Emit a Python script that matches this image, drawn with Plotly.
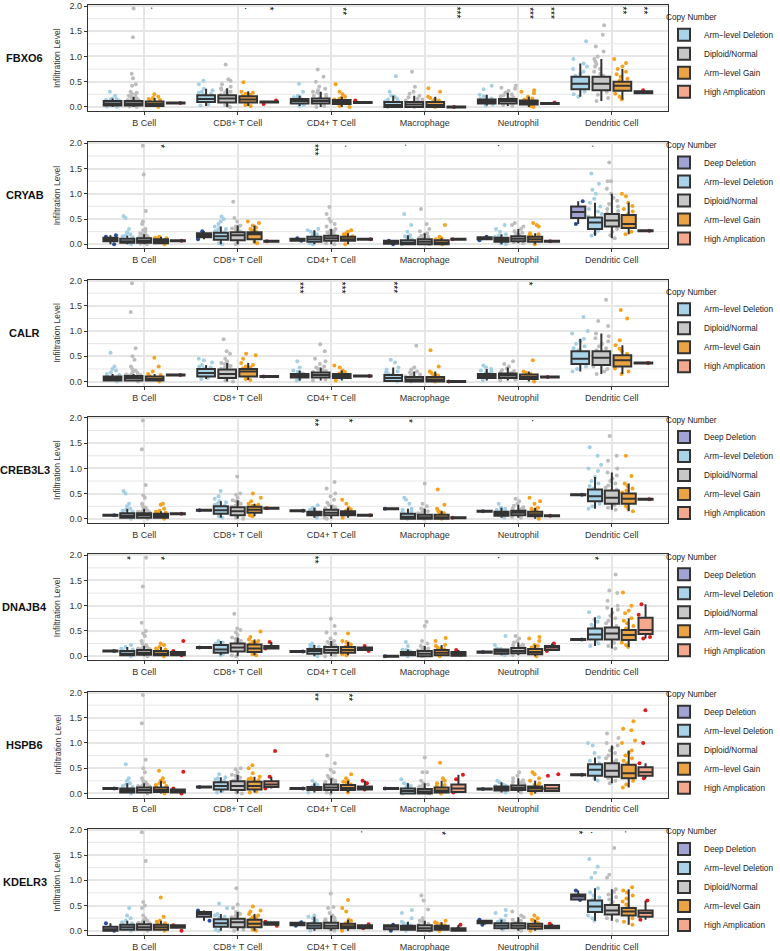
import plotly.graph_objects as go

CELLS = ["B Cell", "CD8+ T Cell", "CD4+ T Cell", "Macrophage", "Neutrophil", "Dendritic Cell"]
GENES = ["FBXO6", "CRYAB", "CALR", "CREB3L3", "DNAJB4", "HSPB6", "KDELR3"]
CAT_NAMES = {"DD": "Deep Deletion", "AD": "Arm\u2212level Deletion", "DN": "Diploid/Normal",
             "AG": "Arm\u2212level Gain", "HA": "High Amplication"}
POINT_COLORS = {"DD": "#2A4B9B", "AD": "#A5CFE3", "DN": "#BDBDBD", "AG": "#F6A21E", "HA": "#E31A1C"}
BOX_FILLS = {"DD": "#A0A3D4", "AD": "#A8D3E8", "DN": "#C7C7C7", "AG": "#EAA443", "HA": "#F4A88E"}

# box stats per cell: [lowerfence, q1, median, q3, upperfence]
FBXO6_BOX = {
    "AD": [[0.0, 0.03, 0.07, 0.12, 0.17], [0.02, 0.10, 0.16, 0.23, 0.36], [0.02, 0.07, 0.12, 0.16, 0.22],
           [0.0, 0.0, 0.04, 0.10, 0.22], [0.03, 0.07, 0.11, 0.15, 0.24], [0.2, 0.35, 0.46, 0.6, 0.86]],
    "DN": [[0.0, 0.03, 0.07, 0.12, 0.2], [0.0, 0.09, 0.17, 0.23, 0.37], [0.0, 0.07, 0.12, 0.17, 0.3],
           [0.0, 0.0, 0.05, 0.10, 0.22], [0.02, 0.07, 0.12, 0.16, 0.28], [0.12, 0.33, 0.46, 0.6, 0.95]],
    "AG": [[0.0, 0.02, 0.06, 0.11, 0.18], [0.02, 0.09, 0.15, 0.21, 0.31], [0.0, 0.06, 0.10, 0.14, 0.2],
           [0.0, 0.0, 0.04, 0.10, 0.2], [0.0, 0.05, 0.09, 0.13, 0.2], [0.15, 0.32, 0.42, 0.5, 0.75]],
    "HA": [[0.07, 0.07, 0.08, 0.09, 0.09], [0.08, 0.09, 0.10, 0.11, 0.11], [0.07, 0.08, 0.09, 0.10, 0.10],
           [-0.01, -0.01, 0.0, 0.01, 0.01], [0.05, 0.06, 0.07, 0.08, 0.08], [0.26, 0.27, 0.29, 0.31, 0.32]],
}
FBXO6_PTS = {
    "AD": [[0.0, 0.01, 0.13, 0.14, 0.15, 0.16, 0.17, 0.22, 0.3],
           [0.03, 0.05, 0.24, 0.26, 0.28, 0.3, 0.33, 0.36, 0.45, 0.52],
           [0.02, 0.04, 0.17, 0.18, 0.19, 0.2, 0.22, 0.3, 0.46],
           [0.0, 0.11, 0.13, 0.15, 0.17, 0.2, 0.22, 0.3, 0.61],
           [0.03, 0.05, 0.16, 0.17, 0.19, 0.21, 0.24, 0.35, 0.42],
           [0.2, 0.25, 0.3, 0.62, 0.66, 0.7, 0.75, 0.8, 0.86, 0.95, 1.3]],
    "DN": [[0.0, 0.01, 0.13, 0.14, 0.15, 0.16, 0.17, 0.18, 0.2, 0.22, 0.24, 0.26, 0.28, 0.3, 0.42, 0.45, 0.57, 0.66, 1.38, 1.95],
           [0.0, 0.02, 0.04, 0.24, 0.26, 0.28, 0.3, 0.32, 0.34, 0.37, 0.4, 0.45, 0.52, 0.55, 0.84],
           [0.0, 0.02, 0.18, 0.2, 0.22, 0.24, 0.26, 0.28, 0.3, 0.33, 0.36, 0.4, 0.5, 0.6, 0.74],
           [0.0, 0.11, 0.13, 0.15, 0.17, 0.19, 0.22, 0.26, 0.3, 0.4, 0.7],
           [0.02, 0.04, 0.17, 0.19, 0.21, 0.23, 0.25, 0.28, 0.32, 0.36, 0.38, 0.42],
           [0.12, 0.18, 0.24, 0.3, 0.62, 0.66, 0.7, 0.75, 0.8, 0.85, 0.9, 0.95, 1.0, 1.1, 1.2, 1.43, 1.62]],
    "AG": [[0.0, 0.12, 0.14, 0.16, 0.18, 0.2, 0.25],
           [0.02, 0.04, 0.22, 0.24, 0.26, 0.28, 0.3, 0.49],
           [0.0, 0.02, 0.15, 0.16, 0.18, 0.2, 0.25, 0.3, 0.45],
           [0.0, 0.11, 0.13, 0.15, 0.18, 0.2, 0.3, 0.37],
           [0.0, 0.02, 0.14, 0.15, 0.17, 0.2, 0.27, 0.3, 0.33],
           [0.15, 0.2, 0.26, 0.52, 0.56, 0.6, 0.65, 0.7, 0.75, 0.8, 0.87, 0.95]],
    "HA": [[0.08], [0.06, 0.13], [0.13], [0.0], [0.09], [0.33]],
}
FBXO6_SIG = [("B Cell", "AG", "."), ("CD8+ T Cell", "AG", "."), ("CD8+ T Cell", "HA", "*"),
             ("CD4+ T Cell", "AG", "**"), ("Macrophage", "HA", "***"), ("Neutrophil", "AG", "***"),
             ("Neutrophil", "HA", "***"), ("Dendritic Cell", "AG", "**"), ("Dendritic Cell", "HA", "**")]

CRYAB_BOX = {
    "DD": [[0.0, 0.06, 0.10, 0.13, 0.18], [0.10, 0.14, 0.18, 0.22, 0.26], [0.07, 0.07, 0.09, 0.11, 0.12],
           [0.0, 0.01, 0.04, 0.07, 0.08], [0.08, 0.10, 0.12, 0.14, 0.15], [0.40, 0.52, 0.64, 0.75, 0.85]],
    "AD": [[0.0, 0.03, 0.06, 0.11, 0.17], [0.0, 0.09, 0.16, 0.23, 0.35], [0.0, 0.05, 0.10, 0.15, 0.28],
           [0.0, 0.0, 0.03, 0.08, 0.18], [0.0, 0.05, 0.09, 0.13, 0.2], [0.17, 0.30, 0.43, 0.53, 0.82]],
    "DN": [[0.0, 0.03, 0.07, 0.12, 0.2], [0.0, 0.08, 0.18, 0.24, 0.37], [0.0, 0.07, 0.12, 0.17, 0.3],
           [0.0, 0.0, 0.05, 0.10, 0.22], [0.02, 0.06, 0.11, 0.16, 0.3], [0.12, 0.35, 0.47, 0.6, 1.0]],
    "AG": [[0.0, 0.02, 0.06, 0.10, 0.15], [0.02, 0.10, 0.20, 0.24, 0.37], [0.0, 0.07, 0.10, 0.15, 0.22],
           [0.0, 0.0, 0.03, 0.08, 0.12], [0.0, 0.05, 0.10, 0.15, 0.22], [0.2, 0.32, 0.40, 0.58, 0.82]],
    "HA": [[0.06, 0.06, 0.07, 0.08, 0.08], [0.05, 0.05, 0.06, 0.07, 0.07], [0.09, 0.09, 0.10, 0.11, 0.11],
           [0.09, 0.09, 0.10, 0.11, 0.11], [0.05, 0.05, 0.06, 0.07, 0.07], [0.26, 0.26, 0.27, 0.28, 0.28]],
}
CRYAB_PTS = {
    "DD": [[0.0, 0.15, 0.18], [0.10, 0.26], [0.07, 0.12], [0.0, 0.07], [0.08, 0.15], [0.40, 0.85]],
    "AD": [[0.0, 0.12, 0.14, 0.16, 0.18, 0.2, 0.24, 0.3, 0.52, 0.56],
           [0.0, 0.02, 0.24, 0.26, 0.28, 0.3, 0.32, 0.35, 0.4, 0.45, 0.5, 0.55],
           [0.0, 0.02, 0.16, 0.18, 0.2, 0.22, 0.25, 0.28, 0.3],
           [0.0, 0.1, 0.12, 0.14, 0.16, 0.18, 0.25, 0.38, 0.6],
           [0.0, 0.02, 0.14, 0.15, 0.17, 0.2, 0.25, 0.3, 0.38],
           [0.17, 0.22, 0.27, 0.55, 0.6, 0.65, 0.7, 0.75, 0.82, 0.9, 1.0, 1.08, 1.2, 1.4]],
    "DN": [[0.0, 0.01, 0.13, 0.14, 0.15, 0.16, 0.17, 0.18, 0.2, 0.22, 0.25, 0.28, 0.3, 0.4, 0.45, 0.66, 1.38, 1.95],
           [0.0, 0.02, 0.25, 0.27, 0.29, 0.31, 0.33, 0.35, 0.37, 0.45, 0.52, 0.84],
           [0.0, 0.02, 0.18, 0.2, 0.22, 0.24, 0.26, 0.28, 0.3, 0.35, 0.4, 0.45, 0.5, 0.6, 0.74],
           [0.0, 0.11, 0.13, 0.15, 0.17, 0.2, 0.22, 0.26, 0.3, 0.4, 0.7],
           [0.02, 0.04, 0.17, 0.19, 0.21, 0.23, 0.26, 0.3, 0.35, 0.38, 0.42],
           [0.12, 0.18, 0.25, 0.3, 0.62, 0.66, 0.7, 0.75, 0.8, 0.86, 0.92, 1.0, 1.1, 1.25, 1.25, 1.62]],
    "AG": [[0.0, 0.11, 0.12, 0.13, 0.15],
           [0.02, 0.05, 0.25, 0.27, 0.3, 0.33, 0.37, 0.42, 0.45],
           [0.0, 0.16, 0.18, 0.2, 0.22, 0.25, 0.28],
           [0.0, 0.09, 0.1, 0.12, 0.15, 0.38],
           [0.0, 0.16, 0.18, 0.2, 0.22, 0.35, 0.38, 0.42],
           [0.2, 0.25, 0.6, 0.65, 0.7, 0.76, 0.82, 0.95, 1.0]],
    "HA": [[0.07], [0.06], [0.1], [0.1], [0.06], [0.27]],
}
CRYAB_SIG = [("B Cell", "AG", "*"), ("CD4+ T Cell", "AD", "***"), ("CD4+ T Cell", "AG", "."),
             ("Macrophage", "AD", "."), ("Neutrophil", "AD", "."), ("Dendritic Cell", "AD", ".")]

CALR_BOX = {
    "AD": [[0.0, 0.02, 0.06, 0.10, 0.15], [0.05, 0.10, 0.17, 0.25, 0.33], [0.02, 0.08, 0.12, 0.15, 0.22],
           [0.0, 0.01, 0.07, 0.13, 0.28], [0.02, 0.07, 0.11, 0.15, 0.25], [0.2, 0.35, 0.45, 0.6, 0.85]],
    "DN": [[0.0, 0.02, 0.07, 0.11, 0.15], [0.0, 0.07, 0.15, 0.24, 0.37], [0.02, 0.08, 0.13, 0.18, 0.28],
           [0.0, 0.0, 0.04, 0.09, 0.2], [0.02, 0.07, 0.12, 0.16, 0.28], [0.15, 0.33, 0.47, 0.6, 0.95]],
    "AG": [[0.0, 0.02, 0.05, 0.10, 0.15], [0.03, 0.10, 0.20, 0.25, 0.37], [0.02, 0.07, 0.11, 0.15, 0.22],
           [0.0, 0.0, 0.04, 0.09, 0.2], [0.0, 0.05, 0.09, 0.14, 0.2], [0.15, 0.30, 0.42, 0.52, 0.72]],
    "HA": [[0.12, 0.12, 0.13, 0.14, 0.14], [0.09, 0.09, 0.10, 0.11, 0.11], [0.10, 0.10, 0.11, 0.12, 0.12],
           [-0.01, -0.01, 0.0, 0.01, 0.01], [0.08, 0.08, 0.09, 0.10, 0.10], [0.36, 0.36, 0.37, 0.38, 0.38]],
}
CALR_PTS = {
    "AD": [[0.0, 0.11, 0.13, 0.15, 0.18, 0.22, 0.25, 0.3, 0.57],
           [0.05, 0.07, 0.26, 0.28, 0.3, 0.33, 0.38, 0.42, 0.45],
           [0.02, 0.04, 0.16, 0.17, 0.19, 0.22, 0.28, 0.4],
           [0.0, 0.14, 0.16, 0.18, 0.2, 0.24, 0.28, 0.38, 0.43],
           [0.02, 0.16, 0.18, 0.2, 0.22, 0.25, 0.28, 0.32],
           [0.2, 0.25, 0.3, 0.62, 0.66, 0.7, 0.75, 0.8, 0.85, 0.95, 1.0, 1.28]],
    "DN": [[0.0, 0.12, 0.13, 0.14, 0.15, 0.17, 0.2, 0.22, 0.25, 0.3, 0.43, 0.5, 0.66, 1.38, 1.95],
           [0.0, 0.02, 0.25, 0.27, 0.29, 0.31, 0.33, 0.35, 0.37, 0.4, 0.45, 0.55, 0.6, 0.84],
           [0.02, 0.04, 0.19, 0.21, 0.23, 0.25, 0.28, 0.3, 0.35, 0.4, 0.45, 0.6, 0.74],
           [0.0, 0.1, 0.12, 0.14, 0.16, 0.18, 0.2, 0.24, 0.28, 0.71],
           [0.02, 0.04, 0.17, 0.19, 0.21, 0.23, 0.26, 0.3, 0.35, 0.4],
           [0.15, 0.2, 0.25, 0.3, 0.62, 0.66, 0.7, 0.75, 0.8, 0.86, 0.9, 0.95, 1.1, 1.2, 1.62]],
    "AG": [[0.0, 0.11, 0.13, 0.15, 0.2, 0.3, 0.47],
           [0.03, 0.05, 0.26, 0.28, 0.3, 0.33, 0.37, 0.45, 0.52, 0.55],
           [0.02, 0.16, 0.17, 0.19, 0.22, 0.28, 0.32],
           [0.0, 0.1, 0.12, 0.14, 0.17, 0.2, 0.3, 0.62],
           [0.0, 0.15, 0.17, 0.2, 0.42],
           [0.15, 0.2, 0.26, 0.55, 0.6, 0.65, 0.72, 0.82, 1.25, 1.42]],
    "HA": [[0.13], [0.1], [0.11], [0.0], [0.09], [0.37]],
}
CALR_SIG = [("CD4+ T Cell", "AD", "***"), ("CD4+ T Cell", "AG", "***"), ("Macrophage", "AD", "***"),
            ("Neutrophil", "AG", "*")]

CREB3L3_BOX = {
    "DD": [[0.06, 0.06, 0.07, 0.08, 0.08], [0.16, 0.16, 0.17, 0.18, 0.18], [0.15, 0.15, 0.16, 0.17, 0.17],
           [0.19, 0.19, 0.20, 0.21, 0.21], [0.14, 0.14, 0.15, 0.16, 0.16], [0.47, 0.47, 0.48, 0.49, 0.49]],
    "AD": [[0.0, 0.02, 0.06, 0.11, 0.2], [0.02, 0.10, 0.17, 0.25, 0.35], [0.02, 0.07, 0.11, 0.14, 0.22],
           [0.0, 0.0, 0.04, 0.10, 0.2], [0.02, 0.06, 0.10, 0.14, 0.22], [0.2, 0.35, 0.45, 0.58, 0.83]],
    "DN": [[0.0, 0.02, 0.07, 0.11, 0.2], [0.0, 0.07, 0.15, 0.23, 0.37], [0.0, 0.07, 0.12, 0.18, 0.27],
           [0.0, 0.0, 0.03, 0.08, 0.2], [0.02, 0.07, 0.12, 0.16, 0.28], [0.18, 0.30, 0.42, 0.56, 0.92]],
    "AG": [[0.0, 0.02, 0.06, 0.10, 0.15], [0.05, 0.12, 0.18, 0.24, 0.3], [0.02, 0.07, 0.11, 0.15, 0.22],
           [0.0, 0.0, 0.03, 0.08, 0.15], [0.0, 0.05, 0.09, 0.14, 0.22], [0.15, 0.30, 0.40, 0.50, 0.70]],
    "HA": [[0.09, 0.09, 0.10, 0.11, 0.11], [0.20, 0.20, 0.21, 0.22, 0.22], [0.06, 0.06, 0.07, 0.08, 0.08],
           [0.01, 0.01, 0.02, 0.03, 0.03], [0.05, 0.05, 0.06, 0.07, 0.07], [0.38, 0.38, 0.39, 0.40, 0.40]],
}
CREB3L3_PTS = {
    "DD": [[0.07], [0.17], [0.16], [0.2], [0.15], [0.48]],
    "AD": [[0.0, 0.12, 0.14, 0.16, 0.18, 0.2, 0.25, 0.3, 0.5, 0.55],
           [0.02, 0.05, 0.26, 0.28, 0.3, 0.33, 0.35, 0.4, 0.45, 0.55],
           [0.02, 0.15, 0.16, 0.18, 0.2, 0.22, 0.27],
           [0.0, 0.11, 0.13, 0.15, 0.18, 0.2, 0.3, 0.38, 0.42],
           [0.02, 0.15, 0.16, 0.18, 0.2, 0.22, 0.3],
           [0.2, 0.25, 0.3, 0.6, 0.65, 0.7, 0.75, 0.83, 0.95, 1.0, 1.07, 1.25, 1.42]],
    "DN": [[0.0, 0.12, 0.13, 0.14, 0.15, 0.17, 0.2, 0.22, 0.25, 0.3, 0.42, 0.47, 0.67, 1.38, 1.95],
           [0.0, 0.02, 0.24, 0.26, 0.28, 0.3, 0.33, 0.35, 0.37, 0.42, 0.48, 0.5, 0.84],
           [0.0, 0.02, 0.19, 0.21, 0.23, 0.25, 0.27, 0.32, 0.38, 0.45, 0.5, 0.6, 0.73],
           [0.0, 0.09, 0.11, 0.13, 0.15, 0.18, 0.2, 0.25, 0.3, 0.7],
           [0.02, 0.04, 0.17, 0.19, 0.21, 0.23, 0.26, 0.3, 0.35, 0.4],
           [0.18, 0.22, 0.27, 0.58, 0.62, 0.66, 0.7, 0.75, 0.8, 0.86, 0.92, 1.0, 1.15, 1.25, 1.64]],
    "AG": [[0.0, 0.11, 0.12, 0.14, 0.16, 0.2, 0.28, 0.3],
           [0.05, 0.07, 0.25, 0.26, 0.28, 0.3, 0.35, 0.42, 0.5],
           [0.02, 0.16, 0.17, 0.19, 0.22, 0.3, 0.38],
           [0.0, 0.09, 0.11, 0.13, 0.15, 0.2, 0.28, 0.58],
           [0.0, 0.15, 0.17, 0.2, 0.22, 0.3, 0.35, 0.42],
           [0.15, 0.2, 0.25, 0.52, 0.56, 0.6, 0.65, 0.7, 0.85, 1.25]],
    "HA": [[0.1], [0.21], [0.07], [0.02], [0.06], [0.39]],
}
CREB3L3_SIG = [("CD4+ T Cell", "AD", "**"), ("CD4+ T Cell", "AG", "*"), ("Macrophage", "AD", "*"),
               ("Neutrophil", "AG", ".")]

DNAJB4_BOX = {
    "DD": [[0.09, 0.09, 0.10, 0.11, 0.11], [0.16, 0.16, 0.17, 0.18, 0.18], [0.08, 0.08, 0.09, 0.10, 0.10],
           [-0.01, -0.01, 0.0, 0.01, 0.01], [0.07, 0.07, 0.08, 0.09, 0.09], [0.32, 0.32, 0.33, 0.34, 0.34]],
    "AD": [[0.0, 0.02, 0.05, 0.10, 0.18], [0.02, 0.07, 0.13, 0.22, 0.3], [0.0, 0.05, 0.10, 0.14, 0.22],
           [0.0, 0.02, 0.05, 0.08, 0.13], [0.02, 0.05, 0.09, 0.13, 0.15], [0.2, 0.33, 0.43, 0.55, 0.77]],
    "DN": [[0.0, 0.03, 0.07, 0.12, 0.2], [0.0, 0.09, 0.17, 0.25, 0.37], [0.0, 0.07, 0.12, 0.18, 0.3],
           [0.0, 0.0, 0.05, 0.10, 0.2], [0.02, 0.06, 0.10, 0.16, 0.27], [0.15, 0.33, 0.45, 0.57, 0.96]],
    "AG": [[0.0, 0.02, 0.05, 0.10, 0.18], [0.02, 0.08, 0.15, 0.23, 0.33], [0.02, 0.07, 0.12, 0.18, 0.28],
           [0.0, 0.02, 0.07, 0.12, 0.22], [0.0, 0.04, 0.08, 0.14, 0.22], [0.18, 0.32, 0.42, 0.52, 0.75]],
    "HA": [[0.02, 0.02, 0.05, 0.08, 0.1], [0.14, 0.15, 0.17, 0.2, 0.28], [0.1, 0.12, 0.14, 0.17, 0.2],
           [0.01, 0.01, 0.05, 0.08, 0.12], [0.1, 0.12, 0.17, 0.2, 0.25], [0.35, 0.44, 0.52, 0.76, 1.03]],
}
DNAJB4_PTS = {
    "DD": [[0.1], [0.17], [0.09], [0.0], [0.08], [0.33]],
    "AD": [[0.0, 0.11, 0.13, 0.15, 0.18, 0.22],
           [0.02, 0.04, 0.23, 0.25, 0.27, 0.3],
           [0.0, 0.15, 0.16, 0.18, 0.2, 0.22, 0.25],
           [0.0, 0.09, 0.1, 0.12, 0.13, 0.2, 0.28],
           [0.02, 0.14, 0.15, 0.22, 0.4],
           [0.2, 0.25, 0.3, 0.57, 0.62, 0.68, 0.72, 0.77, 0.87]],
    "DN": [[0.0, 0.13, 0.14, 0.15, 0.16, 0.18, 0.2, 0.22, 0.25, 0.3, 0.4, 0.45, 0.5, 0.66, 1.38, 1.95],
           [0.0, 0.02, 0.26, 0.28, 0.3, 0.32, 0.34, 0.37, 0.42, 0.47, 0.52, 0.55, 0.84],
           [0.0, 0.02, 0.19, 0.21, 0.23, 0.25, 0.28, 0.3, 0.35, 0.45, 0.47, 0.6, 0.74],
           [0.0, 0.11, 0.13, 0.15, 0.17, 0.2, 0.25, 0.3, 0.6, 0.68],
           [0.02, 0.17, 0.19, 0.21, 0.23, 0.27, 0.3, 0.35, 0.4],
           [0.15, 0.2, 0.26, 0.6, 0.65, 0.7, 0.75, 0.8, 0.86, 0.92, 0.96, 1.0, 1.1, 1.25, 1.3, 1.62]],
    "AG": [[0.0, 0.11, 0.13, 0.15, 0.18, 0.22, 0.25],
           [0.02, 0.04, 0.24, 0.26, 0.28, 0.3, 0.33, 0.38, 0.49],
           [0.02, 0.04, 0.19, 0.21, 0.23, 0.25, 0.28, 0.3, 0.45],
           [0.0, 0.13, 0.15, 0.17, 0.2, 0.22, 0.3, 0.36],
           [0.0, 0.15, 0.17, 0.2, 0.22, 0.3, 0.35, 0.38],
           [0.18, 0.22, 0.27, 0.55, 0.6, 0.65, 0.7, 0.75, 0.85, 0.9, 1.0, 1.26]],
    "HA": [[0.02, 0.1, 0.3], [0.15, 0.28], [0.1, 0.2], [0.03, 0.12], [0.1, 0.25], [0.35, 0.38, 0.82, 1.03]],
}
DNAJB4_SIG = [("B Cell", "AD", "*"), ("B Cell", "AG", "*"), ("CD4+ T Cell", "AD", "**"),
              ("Neutrophil", "AD", "."), ("Dendritic Cell", "AD", "*")]

HSPB6_BOX = {
    "DD": [[0.09, 0.09, 0.10, 0.11, 0.11], [0.12, 0.12, 0.13, 0.14, 0.14], [0.09, 0.09, 0.10, 0.11, 0.11],
           [0.09, 0.09, 0.10, 0.11, 0.11], [0.08, 0.08, 0.09, 0.10, 0.10], [0.36, 0.36, 0.37, 0.38, 0.38]],
    "AD": [[0.0, 0.02, 0.06, 0.10, 0.2], [0.02, 0.08, 0.15, 0.22, 0.32], [0.02, 0.07, 0.10, 0.13, 0.2],
           [0.0, 0.0, 0.05, 0.10, 0.2], [0.02, 0.06, 0.10, 0.14, 0.22], [0.25, 0.35, 0.47, 0.58, 0.71]],
    "DN": [[0.0, 0.02, 0.07, 0.12, 0.2], [0.0, 0.07, 0.15, 0.24, 0.37], [0.0, 0.07, 0.12, 0.18, 0.3],
           [0.0, 0.0, 0.04, 0.09, 0.2], [0.02, 0.07, 0.11, 0.16, 0.3], [0.2, 0.33, 0.45, 0.6, 0.95]],
    "AG": [[0.0, 0.03, 0.07, 0.12, 0.25], [0.02, 0.08, 0.15, 0.23, 0.33], [0.02, 0.07, 0.11, 0.17, 0.25],
           [0.0, 0.02, 0.06, 0.12, 0.25], [0.0, 0.05, 0.10, 0.14, 0.25], [0.12, 0.30, 0.40, 0.57, 0.85]],
    "HA": [[0.0, 0.02, 0.05, 0.08, 0.1], [0.1, 0.13, 0.18, 0.24, 0.33], [0.08, 0.08, 0.11, 0.14, 0.25],
           [0.02, 0.03, 0.1, 0.18, 0.37], [0.05, 0.05, 0.1, 0.17, 0.17], [0.3, 0.35, 0.42, 0.52, 0.6]],
}
HSPB6_PTS = {
    "DD": [[0.1], [0.13], [0.1], [0.1], [0.09], [0.37]],
    "AD": [[0.0, 0.11, 0.13, 0.15, 0.18, 0.2, 0.25, 0.3, 0.58],
           [0.02, 0.05, 0.23, 0.25, 0.28, 0.3, 0.32, 0.38],
           [0.02, 0.14, 0.15, 0.17, 0.2, 0.25],
           [0.0, 0.11, 0.13, 0.15, 0.18, 0.2, 0.28],
           [0.02, 0.15, 0.16, 0.18, 0.22, 0.25],
           [0.25, 0.3, 0.6, 0.65, 0.71, 0.8, 0.95, 1.0]],
    "DN": [[0.0, 0.13, 0.14, 0.15, 0.16, 0.18, 0.2, 0.22, 0.25, 0.3, 0.42, 0.5, 0.67, 1.39, 1.95],
           [0.0, 0.02, 0.25, 0.27, 0.29, 0.31, 0.33, 0.35, 0.37, 0.42, 0.48, 0.5],
           [0.0, 0.02, 0.19, 0.21, 0.23, 0.25, 0.28, 0.3, 0.35, 0.42, 0.47, 0.6, 0.75],
           [0.0, 0.1, 0.12, 0.14, 0.16, 0.18, 0.2, 0.25, 0.42, 0.42, 0.71],
           [0.02, 0.17, 0.19, 0.21, 0.23, 0.26, 0.3, 0.35, 0.42],
           [0.2, 0.25, 0.3, 0.62, 0.66, 0.7, 0.75, 0.8, 0.85, 0.9, 0.95, 1.0, 1.1, 1.19]],
    "AG": [[0.0, 0.13, 0.15, 0.17, 0.2, 0.22, 0.25, 0.3, 0.45],
           [0.02, 0.04, 0.24, 0.26, 0.28, 0.3, 0.33, 0.4, 0.5, 0.56],
           [0.02, 0.18, 0.19, 0.21, 0.23, 0.25, 0.3, 0.38],
           [0.0, 0.13, 0.15, 0.17, 0.2, 0.25, 0.3, 0.61],
           [0.0, 0.15, 0.17, 0.2, 0.25, 0.3, 0.38, 0.42],
           [0.12, 0.18, 0.25, 0.6, 0.65, 0.7, 0.75, 0.8, 0.85, 1.0, 1.05, 1.25, 1.28, 1.43]],
    "HA": [[0.0, 0.1, 0.43], [0.1, 0.33, 0.84], [0.08, 0.2, 0.25], [0.02, 0.15, 0.28, 0.37],
           [0.1, 0.35, 0.38], [0.3, 0.6, 1.0, 1.65]],
}
HSPB6_SIG = [("CD4+ T Cell", "AD", "**"), ("CD4+ T Cell", "AG", "**")]

KDELR3_BOX = {
    "DD": [[0.0, 0.0, 0.03, 0.08, 0.15], [0.2, 0.28, 0.33, 0.37, 0.4], [0.1, 0.11, 0.14, 0.16, 0.17],
           [0.0, 0.03, 0.08, 0.11, 0.12], [0.12, 0.15, 0.17, 0.2, 0.22], [0.61, 0.62, 0.68, 0.72, 0.8]],
    "AD": [[0.0, 0.02, 0.07, 0.12, 0.2], [0.0, 0.08, 0.15, 0.23, 0.33], [0.0, 0.05, 0.10, 0.15, 0.28],
           [0.0, 0.02, 0.06, 0.10, 0.18], [0.02, 0.05, 0.10, 0.15, 0.22], [0.2, 0.37, 0.48, 0.6, 0.84]],
    "DN": [[0.0, 0.02, 0.07, 0.13, 0.2], [0.0, 0.07, 0.17, 0.24, 0.37], [0.0, 0.05, 0.10, 0.16, 0.3],
           [0.0, 0.0, 0.05, 0.11, 0.2], [0.0, 0.05, 0.10, 0.15, 0.27], [0.2, 0.32, 0.40, 0.51, 0.82]],
    "AG": [[0.0, 0.02, 0.07, 0.12, 0.2], [0.0, 0.07, 0.14, 0.22, 0.33], [0.0, 0.05, 0.09, 0.14, 0.22],
           [0.0, 0.02, 0.06, 0.10, 0.17], [0.0, 0.04, 0.09, 0.14, 0.22], [0.12, 0.30, 0.38, 0.45, 0.82]],
    "HA": [[0.06, 0.06, 0.08, 0.11, 0.11], [0.1, 0.12, 0.14, 0.17, 0.18], [0.05, 0.05, 0.08, 0.11, 0.13],
           [0.0, 0.0, 0.03, 0.05, 0.12], [0.05, 0.05, 0.08, 0.1, 0.14], [0.22, 0.28, 0.35, 0.4, 0.6]],
}
KDELR3_PTS = {
    "DD": [[0.0, 0.15], [0.2, 0.4], [0.1, 0.17], [0.0, 0.12], [0.12, 0.22], [0.61, 0.8]],
    "AD": [[0.0, 0.13, 0.15, 0.17, 0.2, 0.25, 0.3, 0.45],
           [0.0, 0.02, 0.24, 0.26, 0.28, 0.3, 0.33, 0.45, 0.54],
           [0.0, 0.16, 0.18, 0.2, 0.22, 0.25, 0.28, 0.3],
           [0.0, 0.11, 0.13, 0.15, 0.18, 0.25, 0.35, 0.41],
           [0.02, 0.16, 0.18, 0.2, 0.22, 0.3, 0.35, 0.41],
           [0.2, 0.25, 0.3, 0.62, 0.66, 0.7, 0.76, 0.84, 1.05, 1.15, 1.27, 1.42]],
    "DN": [[0.0, 0.14, 0.15, 0.16, 0.18, 0.2, 0.22, 0.25, 0.3, 0.45, 0.5, 0.57, 1.38, 1.95],
           [0.0, 0.02, 0.25, 0.27, 0.29, 0.31, 0.33, 0.35, 0.37, 0.45, 0.52, 0.84],
           [0.0, 0.02, 0.17, 0.19, 0.21, 0.23, 0.26, 0.3, 0.35, 0.45, 0.47, 0.74],
           [0.0, 0.12, 0.14, 0.16, 0.18, 0.2, 0.25, 0.42, 0.6, 0.7],
           [0.0, 0.16, 0.18, 0.2, 0.22, 0.27, 0.3, 0.38],
           [0.2, 0.25, 0.53, 0.57, 0.62, 0.67, 0.72, 0.77, 0.82, 1.05, 1.11, 1.64]],
    "AG": [[0.0, 0.13, 0.15, 0.18, 0.2, 0.28, 0.66],
           [0.0, 0.02, 0.23, 0.25, 0.27, 0.3, 0.33, 0.38, 0.4, 0.48],
           [0.0, 0.15, 0.17, 0.2, 0.22, 0.38, 0.45, 0.61],
           [0.0, 0.11, 0.13, 0.15, 0.17, 0.2],
           [0.0, 0.15, 0.17, 0.2, 0.22, 0.25, 0.3],
           [0.12, 0.18, 0.25, 0.47, 0.52, 0.58, 0.64, 0.7, 0.76, 0.8, 0.86]],
    "HA": [[0.0, 0.11], [0.1, 0.18], [0.05, 0.13], [0.05, 0.12], [0.14], [0.22, 0.6]],
}
KDELR3_SIG = [("CD4+ T Cell", "HA", "."), ("Macrophage", "AG", "*"), ("Dendritic Cell", "DD", "*"),
              ("Dendritic Cell", "AD", "."), ("Dendritic Cell", "AG", ".")]

PANELS = [
    (FBXO6_BOX, FBXO6_PTS, FBXO6_SIG),
    (CRYAB_BOX, CRYAB_PTS, CRYAB_SIG),
    (CALR_BOX, CALR_PTS, CALR_SIG),
    (CREB3L3_BOX, CREB3L3_PTS, CREB3L3_SIG),
    (DNAJB4_BOX, DNAJB4_PTS, DNAJB4_SIG),
    (HSPB6_BOX, HSPB6_PTS, HSPB6_SIG),
    (KDELR3_BOX, KDELR3_PTS, KDELR3_SIG),
]
Y_TICKS = [0, 0.5, 1.0, 1.5, 2.0]
Y_TICKTEXT = ["0.0", "0.5", "1.0", "1.5", "2.0"]
Y_MINOR = [0.25, 0.75, 1.25, 1.75]

# ---------------- layout geometry ----------------
W, H = 780, 951
X0, X1 = 88, 668
PANEL_TOP0, PANEL_STEP, PANEL_H = 5, 137.3, 106
BOXGAP, BOXGROUPGAP = 0.1, 0.16
FONT = "Arial, Liberation Sans, sans-serif"
GRID = "#E6E6E6"
DARK = "#333333"

fig = go.Figure()
layout = dict(
    width=W, height=H, margin=dict(l=0, r=0, t=0, b=0, autoexpand=False), autosize=False,
    paper_bgcolor="white", plot_bgcolor="white",
    boxmode="group", boxgap=BOXGAP, boxgroupgap=BOXGROUPGAP,
    font=dict(family=FONT, color=DARK), showlegend=True,
)
shapes = []
annotations = []

for i, (gene, (box, pts, sig)) in enumerate(zip(GENES, PANELS)):
    n = i + 1
    xa = "x" if n == 1 else f"x{n}"
    ya = "y" if n == 1 else f"y{n}"
    leg = "legend" if n == 1 else f"legend{n}"
    top = PANEL_TOP0 + PANEL_STEP * i
    bot = top + PANEL_H
    dom_y = [1 - bot / H, 1 - top / H]
    ymid = (dom_y[0] + dom_y[1]) / 2
    cats = list(box.keys())
    ncat = len(cats)

    # jittered points (drawn first, behind boxes)
    for c in cats:
        xs, ys = [], []
        for cell, vals in zip(CELLS, pts[c]):
            xs += [cell] * len(vals)
            ys += vals
        fig.add_trace(go.Box(
            x=xs, y=ys, xaxis=xa, yaxis=ya, orientation="v", offsetgroup=c, alignmentgroup=f"g{n}",
            boxpoints="all", jitter=1, pointpos=0,
            marker=dict(color=POINT_COLORS[c], size=4, line=dict(width=0)),
            line=dict(width=0, color="rgba(0,0,0,0)"), fillcolor="rgba(0,0,0,0)",
            whiskerwidth=0, showlegend=False, hoverinfo="skip", name=CAT_NAMES[c],
        ))
    # boxes from statistics
    for c in cats:
        st = box[c]
        fig.add_trace(go.Box(
            x=CELLS, lowerfence=[s[0] for s in st], q1=[s[1] for s in st], median=[s[2] for s in st],
            q3=[s[3] for s in st], upperfence=[s[4] for s in st], orientation="v",
            xaxis=xa, yaxis=ya, offsetgroup=c, alignmentgroup=f"g{n}",
            boxpoints=False, fillcolor=BOX_FILLS[c], line=dict(color=DARK, width=2),
            whiskerwidth=0, name=CAT_NAMES[c], legend=leg, showlegend=True,
        ))

    layout["xaxis" if n == 1 else f"xaxis{n}"] = dict(
        domain=[X0 / W, X1 / W], anchor=ya, type="category", categoryorder="array", categoryarray=CELLS,
        range=[-0.6, len(CELLS) - 0.4], showgrid=True, gridcolor=GRID, gridwidth=1.6,
        showline=True, linecolor=DARK, linewidth=1.3, mirror=True,
        ticks="outside", ticklen=3, tickwidth=1, tickcolor=DARK,
        tickfont=dict(size=9, color=DARK, family=FONT), zeroline=False, fixedrange=True,
    )
    layout["yaxis" if n == 1 else f"yaxis{n}"] = dict(
        domain=dom_y, anchor=xa, range=[-0.08, 2.02], tickmode="array", tickvals=Y_TICKS, ticktext=Y_TICKTEXT,
        showgrid=True, gridcolor=GRID, gridwidth=1.6,
        showline=True, linecolor=DARK, linewidth=1.3, mirror=True,
        ticks="outside", ticklen=3, tickwidth=1, tickcolor=DARK,
        tickfont=dict(size=9, color=DARK, family=FONT), zeroline=False, fixedrange=True,
    )
    for v in Y_MINOR:
        shapes.append(dict(type="line", xref=f"{xa} domain", yref=ya, x0=0, x1=1, y0=v, y1=v,
                           line=dict(color=GRID, width=1.0), layer="below"))
    layout[leg] = dict(
        x=664 / W, xanchor="left", y=ymid, yanchor="middle",
        title=dict(text="Copy Number", font=dict(size=8.2, color="#1a1a1a", family=FONT)),
        font=dict(size=8.2, color="#1a1a1a", family=FONT), bgcolor="rgba(0,0,0,0)",
        tracegroupgap=0,
    )
    annotations.append(dict(
        text=f"<b>{gene}</b>", xref="paper", yref="paper", x=25 / W, y=ymid,
        xanchor="center", yanchor="middle", showarrow=False,
        font=dict(size=11, color="#111111", family=FONT)))
    annotations.append(dict(
        text="Infiltration Level", xref="paper", yref="paper", x=57 / W, y=ymid,
        xanchor="center", yanchor="middle", showarrow=False, textangle=-90,
        font=dict(size=8.5, color=DARK, family=FONT)))
    slot = (1 - BOXGAP) / ncat
    for cell, c, lab in sig:
        k = cats.index(c)
        xpos = CELLS.index(cell) + (k - (ncat - 1) / 2) * slot
        annotations.append(dict(
            text=lab, xref=xa, yref=ya, x=xpos, y=2.02, xanchor="center", yanchor="top",
            showarrow=False, textangle=90, font=dict(size=10, color="#000000", family=FONT)))

layout["shapes"] = shapes
layout["annotations"] = annotations
fig.update_layout(**layout)
fig.write_html("out.html", config={"displayModeBar": False},
               post_script="document.body.style.margin='0';document.body.style.overflow='hidden';")
